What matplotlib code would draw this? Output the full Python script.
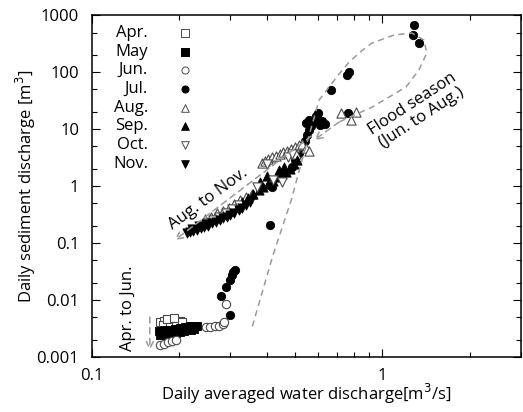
"""Daily sediment discharge vs. daily averaged water discharge (log-log)."""

import matplotlib

matplotlib.use("Agg")
import matplotlib.pyplot as plt
from matplotlib.ticker import FixedLocator, LogLocator, NullFormatter

plt.rcParams["font.family"] = ["Open Sans", "DejaVu Sans"]

# ---- data (water m3/s, sediment m3) ----
apr_q = [0.172, 0.178, 0.184, 0.190, 0.196, 0.202, 0.176, 0.186, 0.195, 0.204, 0.181, 0.192]
apr_s = [0.0040, 0.0042, 0.0043, 0.0044, 0.0043, 0.0042, 0.0036, 0.0038, 0.0039, 0.0040, 0.0046, 0.0047]

may_q = [0.170, 0.174, 0.178, 0.182, 0.186, 0.190, 0.194, 0.198, 0.202, 0.206, 0.210, 0.214, 0.218,
         0.222, 0.226, 0.230, 0.172, 0.177, 0.183, 0.189, 0.195, 0.201, 0.207, 0.213, 0.219, 0.225]
may_s = [0.0028, 0.0028, 0.0029, 0.0029, 0.0030, 0.0030, 0.0031, 0.0031, 0.0032, 0.0032, 0.0033, 0.0033, 0.0034,
         0.0034, 0.0035, 0.0035, 0.0024, 0.0024, 0.0025, 0.0025, 0.0026, 0.0027, 0.0028, 0.0029, 0.0030, 0.0031]

jun_q = [0.172, 0.177, 0.183, 0.189, 0.195, 0.248, 0.256, 0.265, 0.274, 0.283, 0.290, 0.286]
jun_s = [0.0016, 0.0017, 0.0018, 0.0019, 0.0020, 0.0033, 0.0033, 0.0034, 0.0035, 0.0037, 0.0085, 0.0040]

jul_q = [0.298, 0.278, 0.290, 0.298, 0.303, 0.307, 0.312, 0.410, 0.418,
         0.490, 0.500, 0.515, 0.530, 0.540, 0.550, 0.560, 0.570, 0.580, 0.590, 0.600,
         0.545, 0.560, 0.620, 0.635, 0.610,
         0.667, 0.757, 0.770, 1.270, 1.285, 1.340, 0.760]
jul_s = [0.0055, 0.0115, 0.0166, 0.022, 0.027, 0.031, 0.033, 0.21, 0.95,
         2.2, 2.9, 3.8, 5.0, 6.3, 7.8, 9.5, 11.5, 14.0, 17.0, 19.0,
         13.0, 14.5, 14.0, 12.5, 12.0,
         49.0, 90.0, 101.0, 455.0, 680.0, 330.0, 19.0]

aug_q = [0.245, 0.258, 0.270, 0.283, 0.296, 0.310, 0.325, 0.340, 0.355,
         0.385, 0.395, 0.405, 0.418, 0.430, 0.443, 0.456, 0.470, 0.485, 0.500, 0.515, 0.530, 0.545, 0.560, 0.505,
         0.720, 0.810, 0.780]
aug_s = [0.26, 0.29, 0.33, 0.37, 0.42, 0.48, 0.56, 0.64, 0.74,
         2.5, 2.8, 3.0, 3.2, 3.4, 3.7, 3.9, 4.2, 4.5, 4.8, 5.2, 5.5, 4.6, 4.2, 3.6,
         19.0, 20.0, 14.5]

sep_q = [0.300, 0.315, 0.330, 0.345, 0.360, 0.375, 0.390, 0.405, 0.420, 0.435, 0.450, 0.465, 0.480,
         0.495, 0.510, 0.440, 0.460, 0.400, 0.380]
sep_s = [0.36, 0.43, 0.52, 0.62, 0.72, 0.84, 0.98, 1.10, 1.25, 1.42, 1.60, 1.80, 2.00,
         2.40, 2.90, 1.90, 2.20, 1.50, 1.20]

oct_q = [0.250, 0.262, 0.275, 0.290, 0.305, 0.320, 0.420, 0.450, 0.475, 0.490, 0.400, 0.370]
oct_s = [0.22, 0.25, 0.29, 0.34, 0.40, 0.47, 1.28, 1.20, 3.3, 3.6, 2.4, 0.95]

nov_q = [0.212, 0.218, 0.224, 0.230, 0.237, 0.244, 0.252, 0.260, 0.268, 0.276, 0.284, 0.292, 0.300,
         0.310, 0.320, 0.330, 0.340, 0.350, 0.221, 0.234, 0.247]
nov_s = [0.150, 0.155, 0.160, 0.170, 0.180, 0.190, 0.200, 0.220, 0.235, 0.250, 0.270, 0.290, 0.310,
         0.340, 0.380, 0.420, 0.470, 0.520, 0.175, 0.195, 0.215]

months = ["Apr.", "May", "Jun.", "Jul.", "Aug.", "Sep.", "Oct.", "Nov."]
month_q = [apr_q, may_q, jun_q, jul_q, aug_q, sep_q, oct_q, nov_q]
month_s = [apr_s, may_s, jun_s, jul_s, aug_s, sep_s, oct_s, nov_s]
month_marker = ["s", "s", "o", "o", "^", "^", "v", "v"]
month_filled = [False, True, False, True, False, True, False, True]

y_ticks = [0.001, 0.01, 0.1, 1, 10, 100, 1000]
y_tick_labels = ["0.001", "0.01", "0.1", "1", "10", "100", "1000"]
x_ticks = [0.1, 1]
x_tick_labels = ["0.1", "1"]

# annotation paths (guide lines drawn by hand in the original)
flood_q = [0.357, 0.420, 0.486, 0.526, 0.606, 0.710, 0.769, 0.850, 0.922, 1.097, 1.264, 1.390, 1.423,
           1.336, 1.206, 0.922, 0.710, 0.583]
flood_s = [0.0034, 0.06, 0.567, 2.54, 32.6, 93.5, 152, 240, 328, 454, 492, 370, 219,
           110, 55.2, 24.5, 13.4, 6.45]
augnov_q = [0.570, 0.193]
augnov_s = [7.6, 0.112]
aprjun_q = [0.1585, 0.1585]
aprjun_s = [0.0050, 0.0013]

GUIDE = "#9a9a9a"
EDGE = "#4a4a4a"
FS = 12

fig = plt.figure(figsize=(5.23, 4.12), dpi=100)
ax = fig.add_axes([0.1753, 0.1342, 0.8209, 0.8282])
ax.set_xscale("log")
ax.set_yscale("log")
ax.set_xlim(0.1, 3)
ax.set_ylim(0.001, 1000)

for q, s, m, filled in zip(month_q, month_s, month_marker, month_filled):
    size = 36 if m in ("s", "o") else 44
    if filled:
        ax.scatter(q, s, marker=m, s=size, c="black", edgecolors="black",
                   linewidths=0.6, zorder=3)
    else:
        ax.scatter(q, s, marker=m, s=size, c="white", edgecolors=EDGE,
                   linewidths=0.8, zorder=3)

# dashed guide lines
dash = (0, (4, 3))
arrow_kw = dict(arrowstyle="->,head_length=0.5,head_width=0.25", color=GUIDE,
                lw=1.1, ls=dash, shrinkA=0, shrinkB=0)
ax.plot(flood_q[:-1], flood_s[:-1], ls=dash, color=GUIDE, lw=1.1, zorder=4)
ax.annotate("", xy=(flood_q[-1], flood_s[-1]), xytext=(flood_q[-2], flood_s[-2]),
            arrowprops=arrow_kw, zorder=4)
ax.annotate("", xy=(augnov_q[1], augnov_s[1]), xytext=(augnov_q[0], augnov_s[0]),
            arrowprops=arrow_kw, zorder=4)
ax.annotate("", xy=(aprjun_q[1], aprjun_s[1]), xytext=(aprjun_q[0], aprjun_s[0]),
            arrowprops=arrow_kw, zorder=4)

ax.text(0.252, 0.60, "Aug. to Nov.", rotation=36, fontsize=FS,
        ha="center", va="center", rotation_mode="anchor")
ax.text(1.315, 21.0, "Flood season\n(Jun. to Aug.)", rotation=33, fontsize=FS,
        ha="center", va="center", rotation_mode="anchor", linespacing=1.0)
ax.text(0.1332, 0.0070, "Apr. to Jun.", rotation=90, fontsize=FS,
        ha="center", va="center", rotation_mode="anchor")

# hand-made legend: right-aligned labels, markers to the right
for i, (name, m, filled) in enumerate(zip(months, month_marker, month_filled)):
    yy = 0.949 - i * 0.0548
    ax.text(0.131, yy, name, transform=ax.transAxes, ha="right", va="center",
            fontsize=FS)
    ax.scatter([0.217], [yy], transform=ax.transAxes, marker=m,
               s=26 if m in ("s", "o") else 30,
               c="black" if filled else "white",
               edgecolors="black" if filled else EDGE,
               linewidths=0.7, zorder=5, clip_on=False)

ax.yaxis.set_major_locator(FixedLocator(y_ticks))
ax.set_yticklabels(y_tick_labels)
ax.yaxis.set_minor_locator(LogLocator(base=10, subs=(2, 5), numticks=20))
ax.yaxis.set_minor_formatter(NullFormatter())
ax.xaxis.set_major_locator(FixedLocator(x_ticks))
ax.set_xticklabels(x_tick_labels)
ax.xaxis.set_minor_locator(LogLocator(base=10, subs=range(2, 10), numticks=20))
ax.xaxis.set_minor_formatter(NullFormatter())

ax.tick_params(which="both", direction="in", top=True, right=True,
               labelsize=FS, width=0.8)
ax.tick_params(which="major", length=6)
ax.tick_params(axis="x", which="major", pad=8)
ax.tick_params(axis="y", which="major", pad=9)
ax.tick_params(which="minor", length=3.5)
for sp in ax.spines.values():
    sp.set_linewidth(1.1)

ax.set_xlabel("Daily averaged water discharge[m$^3$/s]", fontsize=FS)
ax.set_ylabel("Daily sediment discharge [m$^3$]", fontsize=FS)
ax.xaxis.set_label_coords(0.5, -0.075)
ax.yaxis.set_label_coords(-0.126, 0.5)

fig.savefig("out.png", dpi=100)
